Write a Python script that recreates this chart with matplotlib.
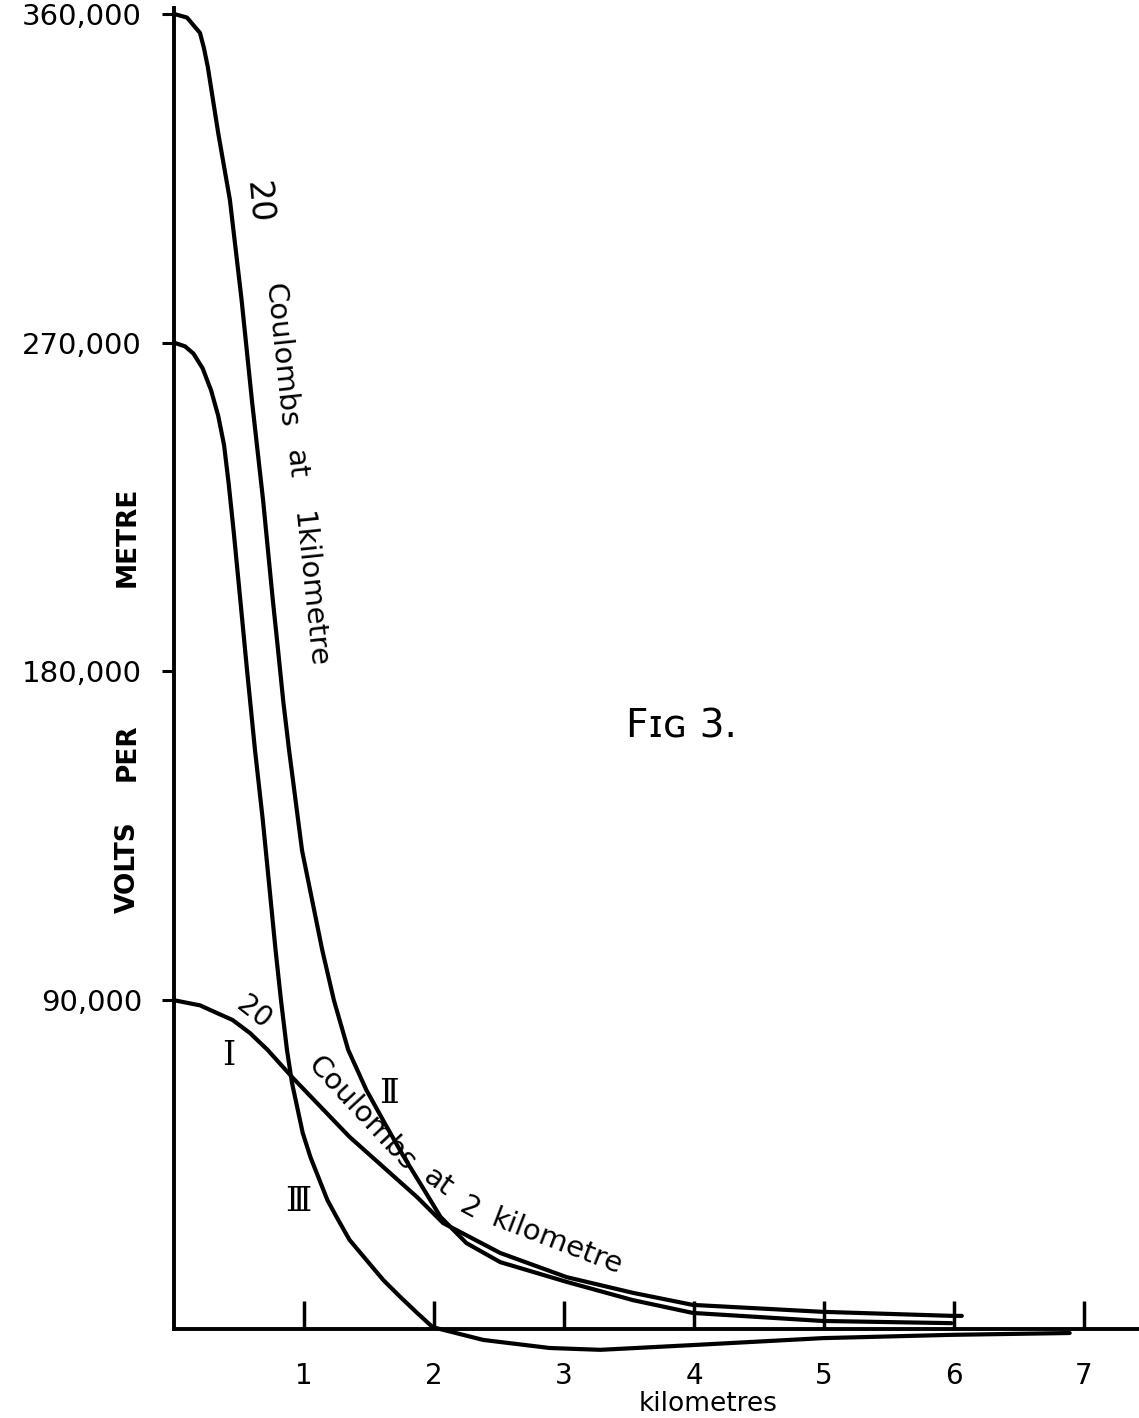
import matplotlib
matplotlib.use("Agg")
import matplotlib.pyplot as plt

# ---------------- data ----------------
# Curve II : 20 coulombs at 1 kilometre
dist_II = [0.0, 0.10, 0.20, 0.23, 0.26, 0.34, 0.43, 0.52, 0.60, 0.685, 0.76, 0.80, 0.84,
           0.885, 0.985, 1.14, 1.23, 1.34, 1.48, 1.62, 1.76, 1.91, 2.05, 2.25, 2.51,
           3.02, 3.53, 3.99, 4.99, 5.98]
field_II = [360000, 359000, 354800, 350700, 345500, 327400, 309100, 281700, 254000,
            227000, 199600, 186000, 172000, 158500, 131000, 103800, 90000, 76400, 65400,
            56400, 47600, 38900, 30700, 23500, 18300, 12900, 7900, 4400, 2200, 1600]

# Curve I : 20 coulombs at 2 kilometres
dist_I = [0.0, 0.20, 0.33, 0.45, 0.585, 0.72, 0.915, 1.35, 1.87, 2.07, 2.51, 3.02, 3.53,
          3.99, 4.99, 5.98, 6.06]
field_I = [90000, 88600, 86500, 84600, 81000, 76400, 68700, 52600, 36100, 29000, 20800,
           14200, 9900, 6600, 4700, 3600, 3600]

# Curve III : difference
dist_III = [0.0, 0.085, 0.15, 0.22, 0.285, 0.34, 0.385, 0.42, 0.46, 0.51, 0.56, 0.623,
            0.681, 0.731, 0.781, 0.823, 0.869, 0.908, 0.99, 1.05, 1.18, 1.25, 1.35, 1.48,
            1.61, 1.74, 1.87, 1.99, 2.38, 2.89, 3.28, 3.99, 4.99, 5.98, 6.89]
field_III = [270000, 269000, 267000, 263000, 257000, 250000, 242000, 231600, 218000,
             199600, 181000, 158500, 140000, 122000, 103800, 90000, 76400, 67300, 53700,
             47000, 35300, 30700, 24400, 18900, 13400, 8800, 4400, 500, -3000, -5200,
             -5700, -4400, -2500, -1600, -1100]

y_ticks = [90000, 180000, 270000, 360000]
y_tick_labels = ["90,000", "180,000", "270,000", "360,000"]
x_ticks = [1, 2, 3, 4, 5, 6, 7]
x_tick_labels = ["1", "2", "3", "4", "5", "6", "7"]

# ---------------- figure ----------------
W, H = 1139, 1418
fig = plt.figure(figsize=(W / 100, H / 100), dpi=100)
fig.patch.set_facecolor("white")

ax = fig.add_axes([174 / W, 0.0, (W - 174) / W, 1.0])
ax.set_facecolor("white")
ax.set_xlim(0, (W - 174) / 130.0)
ax.set_ylim(-(H - 1329) / 3.653e-3, 1329 / 3.653e-3)

lw = 3.0
for xs, ys in [(dist_II, field_II), (dist_I, field_I), (dist_III, field_III)]:
    ax.plot(xs, ys, color="black", lw=lw, solid_joinstyle="round",
            solid_capstyle="round", clip_on=False)

# axes lines
for s in ["top", "right"]:
    ax.spines[s].set_visible(False)
ax.spines["left"].set_position(("data", 0))
ax.spines["bottom"].set_position(("data", 0))
ax.spines["left"].set_bounds(0, 361500)
ax.spines["bottom"].set_bounds(0, (W - 174) / 130.0)
ax.spines["left"].set_linewidth(2.8)
ax.spines["bottom"].set_linewidth(2.8)

ax.set_yticks(y_ticks)
ax.set_yticklabels(y_tick_labels)
ax.tick_params(axis="y", direction="out", length=9, width=2.2, pad=14,
               labelsize=21, colors="black")
ax.set_xticks(x_ticks)
ax.set_xticklabels(x_tick_labels)
ax.tick_params(axis="x", direction="in", length=20, width=2.5, pad=24,
               labelsize=20, colors="black")


def ftext(x, y, s, **kw):
    kw.setdefault("ha", "center")
    kw.setdefault("va", "center")
    kw.setdefault("rotation_mode", "anchor")
    fig.text(x / W, 1 - y / H, s, **kw)


# axis titles
ftext(708, 1411, "kilometres", fontsize=19, va="baseline")
ytitle = dict(fontsize=19, rotation=90, fontweight="bold")
ftext(128, 537, "METRE", **ytitle)
ftext(128, 752, "PER", **ytitle)
ftext(128, 867, "VOLTS", **ytitle)

# curve II annotation
ftext(258, 202, "20", fontsize=24, rotation=-85)
ftext(281, 355, "Coulombs", fontsize=21, rotation=-84)
ftext(296, 464, "at", fontsize=21, rotation=-84)
ftext(309, 590, "1kilometre", fontsize=21, rotation=-84)

# curve I annotation
ftext(254, 1013, "20", fontsize=20, rotation=-38)
ftext(362, 1114, "Coulombs", fontsize=21, rotation=-47)
ftext(438, 1182, "at", fontsize=21, rotation=-35)
ftext(470, 1208, "2", fontsize=21, rotation=-28)
ftext(557, 1242, "kilometre", fontsize=21, rotation=-21)

# roman numerals
rom = dict(fontsize=24, family=["DejaVu Serif", "DejaVu Sans"])
ftext(229, 1056, "\u2160", **rom)
ftext(389, 1094, "\u2161", **rom)
ftext(298, 1202, "\u2162", **rom)

# figure title
ftext(681, 726, "F\u026a\u0262 3.", fontsize=28)

fig.savefig("out.png", dpi=100, facecolor="white")
